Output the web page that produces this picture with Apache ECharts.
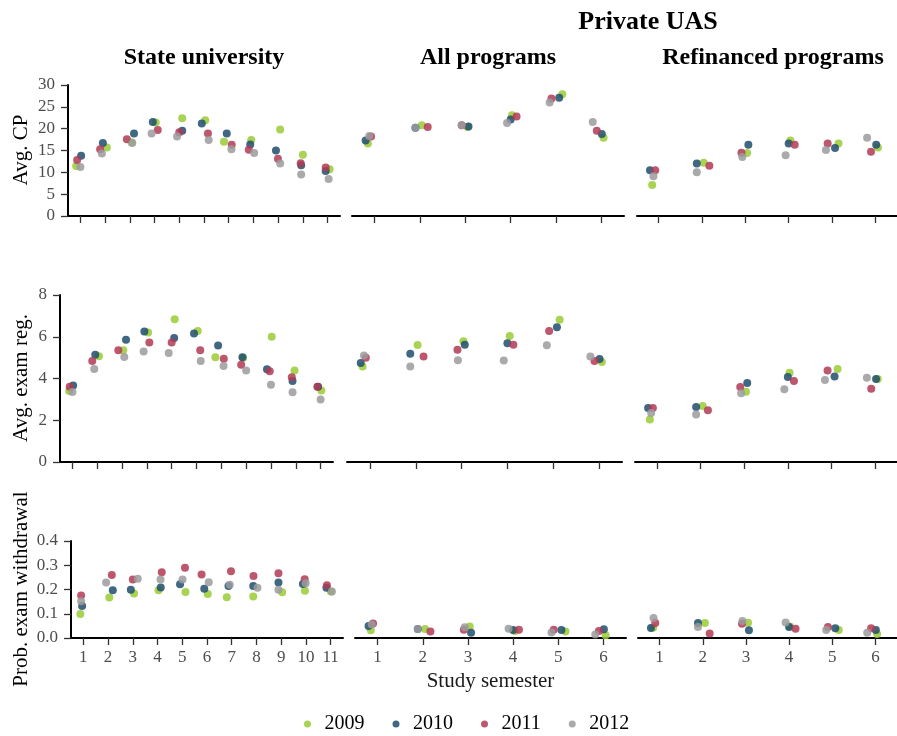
<!DOCTYPE html>
<html>
<head>
<meta charset="utf-8">
<title>Study semester facets</title>
<script src="https://cdn.jsdelivr.net/npm/echarts@6/dist/echarts.min.js"></script>
<style>
    html, body { margin: 0; padding: 0; background: #fff; }
    #chart1 { width: 897px; height: 736px; }
</style>
</head>
<body>
<div id="chart1"></div>
<script>
// years / colours
var years = ['2009', '2010', '2011', '2012'];
var yearColors = ['#9acb34', '#1f4e6d', '#b23a54', '#9b9b9d'];

var semestersState = [1, 2, 3, 4, 5, 6, 7, 8, 9, 10, 11];
var semestersUas = [1, 2, 3, 4, 5, 6];

// values per year (2009, 2010, 2011, 2012)
var stateCP = [
    [11.45, 15.7, 16.9, 21.4, 22.4, 21.9, 17.0, 17.4, 19.8, 14.0, 10.7],
    [13.8, 16.7, 18.9, 21.5, 19.5, 21.2, 18.9, 16.4, 15.0, 11.6, 10.3],
    [12.8, 15.3, 17.6, 19.7, 19.2, 18.9, 16.3, 15.2, 13.1, 12.1, 11.1],
    [11.2, 14.3, 16.7, 18.9, 18.2, 17.4, 15.3, 14.4, 12.0, 9.5, 8.5]
];
var stateCPJitter = [
    [-0.17, 0.07, 0.07, 0.05, 0.12, 0.05, -0.19, -0.09, 0.08, 0, 0.08],
    [0.03, -0.09, 0.17, -0.07, 0.12, -0.09, -0.08, -0.13, -0.09, -0.07, -0.08],
    [-0.13, -0.2, -0.12, 0.13, 0, 0.16, 0.12, -0.19, -0.01, -0.09, -0.08],
    [0, -0.13, 0.1, -0.12, -0.09, 0.19, 0.11, 0.03, 0.08, -0.07, 0.04]
];
var stateExam = [
    [3.40, 5.06, 5.35, 6.2, 6.84, 6.28, 5.02, 5.0, 6.0, 4.38, 3.43],
    [3.66, 5.14, 5.86, 6.25, 5.94, 6.15, 5.58, 5.02, 4.44, 3.88, 3.6],
    [3.61, 4.84, 5.35, 5.72, 5.72, 5.35, 4.95, 4.66, 4.35, 4.06, 3.61],
    [3.35, 4.46, 5.03, 5.29, 5.22, 4.84, 4.6, 4.38, 3.7, 3.34, 3.0]
];
var stateExamJitter = [
    [-0.13, 0.07, 0.05, 0.05, 0.12, 0.05, -0.24, -0.12, 0.03, -0.05, 0.03],
    [0.03, -0.08, 0.16, -0.1, 0.1, -0.1, -0.13, -0.15, -0.16, -0.13, -0.1],
    [-0.11, -0.2, -0.15, 0.1, 0, 0.15, 0.1, -0.2, -0.05, -0.16, -0.13],
    [0, -0.12, 0.09, -0.13, -0.12, 0.17, 0.09, 0, 0, -0.13, 0]
];
var stateWd = [
    [0.099, 0.167, 0.184, 0.197, 0.19, 0.181, 0.168, 0.171, 0.189, 0.195, 0.192],
    [0.132, 0.197, 0.199, 0.208, 0.222, 0.203, 0.214, 0.214, 0.229, 0.223, 0.207],
    [0.175, 0.26, 0.241, 0.271, 0.29, 0.262, 0.275, 0.256, 0.267, 0.242, 0.218],
    [0.152, 0.229, 0.244, 0.241, 0.241, 0.23, 0.22, 0.207, 0.199, 0.226, 0.192]
];
var stateWdJitter = [
    [-0.12, 0.05, 0.05, 0.04, 0.13, 0.03, -0.2, -0.13, 0.04, -0.04, 0.01],
    [-0.05, 0.19, -0.08, 0.13, -0.09, -0.11, -0.13, -0.13, -0.11, -0.12, -0.17],
    [-0.09, 0.15, 0, 0.17, 0.11, -0.22, -0.03, -0.12, -0.11, -0.05, -0.15],
    [-0.09, -0.08, 0.2, 0.12, 0.01, 0.07, -0.08, 0.04, -0.11, -0.01, 0.05]
];

var allCP = [
    [16.6, 20.8, 20.4, 23.1, 27.9, 17.9],
    [17.3, 20.2, 20.5, 22.1, 27.1, 18.8],
    [18.2, 20.4, 20.8, 22.8, 26.9, 19.5],
    [18.3, 20.2, 20.8, 21.3, 26.0, 21.5]
];
var allCPJitter = [
    [-0.15, 0.04, 0.05, 0.03, 0.14, 0.05],
    [-0.2, -0.1, 0.07, 0, 0.07, 0.01],
    [-0.08, 0.17, -0.08, 0.13, -0.1, -0.1],
    [-0.12, -0.1, -0.08, -0.08, -0.14, -0.19]
];
var allExam = [
    [4.58, 5.6, 5.78, 6.04, 6.82, 4.79],
    [4.74, 5.19, 5.62, 5.69, 6.45, 4.94],
    [5.0, 5.05, 5.38, 5.62, 6.28, 4.84],
    [5.1, 4.57, 4.87, 4.86, 5.59, 5.05]
];
var allExamJitter = [
    [-0.16, 0.04, 0.04, 0.05, 0.14, 0.06],
    [-0.2, -0.12, 0.07, 0, 0.08, 0.01],
    [-0.09, 0.17, -0.09, 0.13, -0.09, -0.1],
    [-0.13, -0.12, -0.08, -0.08, -0.14, -0.19]
];
var allWd = [
    [0.032, 0.037, 0.047, 0.029, 0.027, 0.011],
    [0.049, 0.037, 0.022, 0.033, 0.033, 0.036],
    [0.06, 0.027, 0.034, 0.034, 0.034, 0.029],
    [0.056, 0.037, 0.044, 0.038, 0.023, 0.014]
];
var allWdJitter = [
    [-0.15, 0.05, 0.04, 0.04, 0.16, 0.05],
    [-0.2, -0.11, 0.07, 0, 0.07, 0.01],
    [-0.1, 0.17, -0.09, 0.13, -0.1, -0.1],
    [-0.13, -0.11, -0.07, -0.1, -0.15, -0.18]
];

var refCP = [
    [7.1, 12.2, 14.4, 17.3, 16.6, 15.7],
    [10.5, 12.0, 16.3, 16.6, 15.6, 16.3],
    [10.5, 11.5, 14.5, 16.3, 16.6, 14.7],
    [9.1, 10.0, 13.5, 13.9, 15.1, 17.9]
];
var refCPJitter = [
    [-0.15, 0.04, 0.04, 0.04, 0.15, 0.06],
    [-0.2, -0.12, 0.07, 0, 0.07, 0.02],
    [-0.08, 0.17, -0.09, 0.14, -0.1, -0.1],
    [-0.12, -0.12, -0.07, -0.07, -0.14, -0.19]
];
var refExam = [
    [2.03, 2.68, 3.37, 4.28, 4.46, 3.98],
    [2.59, 2.64, 3.79, 4.07, 4.1, 3.98],
    [2.59, 2.48, 3.59, 3.88, 4.38, 3.51],
    [2.35, 2.28, 3.29, 3.48, 3.93, 4.03]
];
var refExamJitter = [
    [-0.16, 0.05, 0.04, 0.04, 0.14, 0.06],
    [-0.2, -0.1, 0.07, 0, 0.07, 0.02],
    [-0.09, 0.17, -0.09, 0.14, -0.09, -0.09],
    [-0.13, -0.1, -0.07, -0.08, -0.15, -0.19]
];
var refWd = [
    [0.042, 0.062, 0.063, 0.047, 0.033, 0.016],
    [0.041, 0.062, 0.032, 0.045, 0.04, 0.033],
    [0.062, 0.019, 0.059, 0.038, 0.045, 0.04],
    [0.082, 0.045, 0.07, 0.064, 0.033, 0.022]
];
var refWdJitter = [
    [-0.15, 0.05, 0.05, 0.02, 0.15, 0.04],
    [-0.2, -0.11, 0.07, 0, 0.07, 0.01],
    [-0.1, 0.16, -0.09, 0.15, -0.1, -0.1],
    [-0.14, -0.11, -0.08, -0.08, -0.14, -0.19]
];

// y scales per row
var rowMax = [30, 8, 0.4];
var rowInterval = [5, 2, 0.1];
var rowNames = ['Avg. CP', 'Avg. exam reg.', 'Prob. exam withdrawal'];

var chart1 = echarts.init(document.getElementById('chart1'));
var serif = "'Liberation Serif', 'DejaVu Serif', serif";

// panels: row, col, grid box, data
var panels = [
    {row: 0, col: 0, box: [68, 85, 272, 131], sem: semestersState, v: stateCP, j: stateCPJitter},
    {row: 0, col: 1, box: [352, 85, 272, 131], sem: semestersUas, v: allCP, j: allCPJitter},
    {row: 0, col: 2, box: [637, 85, 272, 131], sem: semestersUas, v: refCP, j: refCPJitter},
    {row: 1, col: 0, box: [60, 295, 273, 167], sem: semestersState, v: stateExam, j: stateExamJitter},
    {row: 1, col: 1, box: [347, 295, 275, 167], sem: semestersUas, v: allExam, j: allExamJitter},
    {row: 1, col: 2, box: [635, 295, 275, 167], sem: semestersUas, v: refExam, j: refExamJitter},
    {row: 2, col: 0, box: [71, 541, 272, 97], sem: semestersState, v: stateWd, j: stateWdJitter},
    {row: 2, col: 1, box: [355, 541, 271, 97], sem: semestersUas, v: allWd, j: allWdJitter},
    {row: 2, col: 2, box: [638, 541, 272, 97], sem: semestersUas, v: refWd, j: refWdJitter}
];

var grids = [], xAxes = [], yAxes = [], series = [];
panels.forEach(function (p, i) {
    grids.push({left: p.box[0], top: p.box[1], width: p.box[2], height: p.box[3]});
    var bottomRow = p.row === 2;
    xAxes.push({
        type: 'value',
        gridIndex: i,
        min: 0.5,
        max: p.sem.length + 0.5,
        splitLine: {show: false},
        axisLine: {show: true, onZero: false, lineStyle: {color: '#000', width: 2}},
        axisTick: {show: true, customValues: p.sem, length: 7, lineStyle: {color: '#333', width: 1.3}},
        axisLabel: {
            show: bottomRow,
            customValues: p.sem,
            margin: 11,
            color: '#4d4d4d',
            fontSize: 17,
            fontFamily: serif
        },
        name: (bottomRow && p.col === 1) ? 'Study semester' : '',
        nameLocation: 'middle',
        nameGap: 33,
        nameTextStyle: {color: '#1a1a1a', fontSize: 21, fontFamily: serif}
    });
    var dec = p.row === 2 ? 1 : 0;
    yAxes.push({
        type: 'value',
        gridIndex: i,
        show: p.col === 0,
        min: 0,
        max: rowMax[p.row],
        interval: rowInterval[p.row],
        splitLine: {show: false},
        axisLine: {show: true, lineStyle: {color: '#000', width: 2}},
        axisTick: {show: true, length: 7, lineStyle: {color: '#333', width: 1.3}},
        axisLabel: {
            margin: 13,
            color: '#4d4d4d',
            fontSize: 17,
            fontFamily: serif,
            formatter: function (val) { return val.toFixed(dec); }
        }
    });
    years.forEach(function (yr, k) {
        var pts = p.sem.map(function (s, n) {
            return [s + p.j[k][n], p.v[k][n]];
        });
        series.push({
            type: 'scatter',
            name: yr,
            xAxisIndex: i,
            yAxisIndex: i,
            data: pts,
            symbol: 'circle',
            symbolSize: 8,
            itemStyle: {color: yearColors[k], opacity: 0.85},
            emphasis: {disabled: true},
            silent: true
        });
    });
});

// strip labels and row titles
var texts = [
    {t: 'Private UAS', x: 648, y: 22, size: 26, bold: true},
    {t: 'State university', x: 204, y: 58, size: 24, bold: true},
    {t: 'All programs', x: 488, y: 58, size: 24, bold: true},
    {t: 'Refinanced programs', x: 773, y: 58, size: 24, bold: true}
];
var graphics = texts.map(function (t) {
    return {
        type: 'text', x: t.x, y: t.y,
        style: {
            text: t.t, align: 'center', verticalAlign: 'middle',
            font: (t.bold ? 'bold ' : '') + t.size + 'px ' + serif, fill: '#000'
        }
    };
});
var rowCenters = [150, 378, 589];
rowNames.forEach(function (n, r) {
    graphics.push({
        type: 'text', x: 21, y: rowCenters[r], rotation: Math.PI / 2,
        style: {
            text: n, align: 'center', verticalAlign: 'middle',
            font: '21px ' + serif, fill: '#000'
        }
    });
});

var option = {
    animation: false,
    backgroundColor: '#fff',
    color: yearColors,
    legend: {
        data: years,
        left: 299,
        top: 709,
        icon: 'circle',
        itemWidth: 24,
        itemHeight: 7,
        itemGap: 28,
        textStyle: {color: '#000', fontSize: 20, fontFamily: serif}
    },
    grid: grids,
    xAxis: xAxes,
    yAxis: yAxes,
    series: series,
    graphic: graphics
};
chart1.setOption(option, true);
</script>
</body>
</html>
